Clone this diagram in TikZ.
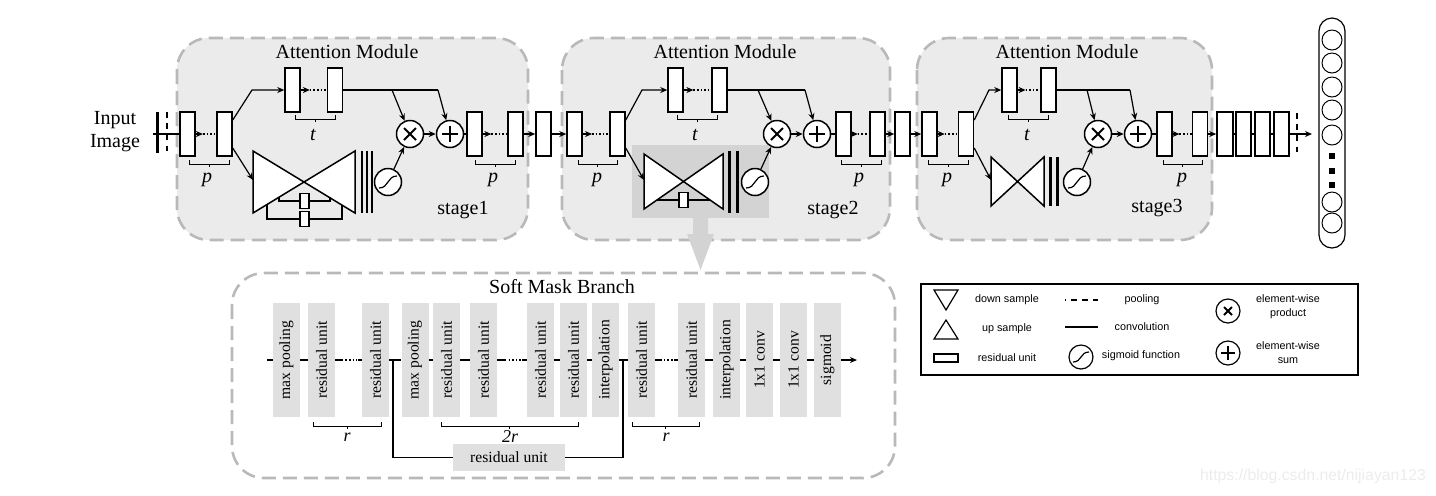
\documentclass[tikz,border=0pt]{standalone}
\usepackage{fontspec}
\setmainfont{Liberation Serif}
\newfontfamily\legfont{Liberation Sans}
\usetikzlibrary{arrows.meta,calc}
\definecolor{stagegray}{RGB}{235,235,235}
\definecolor{dashgray}{RGB}{185,185,185}
\definecolor{hlgray}{RGB}{211,211,211}
\definecolor{smgray}{RGB}{224,224,224}
\definecolor{wmgray}{RGB}{236,236,236}
\newcommand\mytimes[2]{\draw[line width=1pt] ([shift={(-#2,-#2)}]#1.center) -- ([shift={(#2,#2)}]#1.center) ([shift={(-#2,#2)}]#1.center) -- ([shift={(#2,-#2)}]#1.center);}
\newcommand\myplus[2]{\draw[line width=1pt] ([shift={(-#2,0)}]#1.center) -- ([shift={(#2,0)}]#1.center) ([shift={(0,-#2)}]#1.center) -- ([shift={(0,#2)}]#1.center);}
\newcommand\mysig[3]{\draw[line width=0.6pt] ([shift={(-#2,#3)}]#1.center) .. controls ([shift={(1,#3)}]#1.center) and ([shift={(-1,-#3)}]#1.center) .. ([shift={(#2,-#3)}]#1.center);}
\newcommand\mybrk[3]{\draw[line width=0.5pt] (#1,#3-4) -- (#1,#3) -- (#2,#3) -- (#2,#3-4) ({(#1+#2)/2},#3) -- ({(#1+#2)/2},#3+3);}
\newcommand\bowshape[4]{\filldraw[fill=white,line width=0.75pt] (#1,#2) -- (#3,#4) -- (#3,#2) -- (#1,#4) -- cycle;}
\newcommand\pairlink[2]{\draw[arr] (#1.east) -- ($(#1.east)!0.35!(#2.west)$); \draw[line width=0.8pt,densely dotted] ($(#1.east)!0.35!(#2.west)$) -- (#2.west);}
\newcommand\dotlink[2]{\draw[ln] (#1.east) -- ($(#1.east)!0.3!(#2.west)$); \draw[line width=0.8pt,densely dotted] ($(#1.east)!0.38!(#2.west)$) -- ($(#1.east)!0.8!(#2.west)$); \draw[ln] ($(#1.east)!0.85!(#2.west)$) -- (#2.west);}
\begin{document}
\begin{tikzpicture}[x=0.5pt,y=-0.5pt,
 blk/.style={draw,fill=white,line width=0.75pt,minimum width=7.5pt,minimum height=22pt,inner sep=0pt},
 sblk/.style={draw,fill=white,line width=0.6pt,minimum width=4.5pt,minimum height=7.5pt,inner sep=0pt},
 arr/.style={line width=0.6pt,-{Stealth[length=3.5pt,width=3pt]}},
 ln/.style={line width=0.65pt},
 circ/.style={draw,circle,fill=white,line width=0.75pt,minimum size=13.5pt,inner sep=0pt},
 lcirc/.style={draw,circle,line width=0.6pt,minimum size=12pt,inner sep=0pt},
 stagebox/.style={fill=stagegray,draw=dashgray,line width=1.3pt,dash pattern=on 7pt off 3.5pt,rounded corners=16pt},
 mbox/.style={fill=smgray,minimum width=13.5pt,minimum height=57pt,inner sep=0pt,font=\fontsize{7.8}{9}\selectfont},
 lbl/.style={font=\fontsize{10}{11.5}\selectfont,inner sep=0pt},
 ilbl/.style={font=\fontsize{10}{12}\selectfont\itshape,inner sep=0pt},
 leg/.style={font=\legfont\fontsize{5.4}{7}\selectfont,align=center,inner sep=0pt},
 thickbar/.style={line width=1.5pt},
 dbar/.style={line width=1.4pt,dash pattern=on 2.8pt off 2.8pt},
]
\useasboundingbox (0,0) rectangle (1436,495);
% backgrounds
\draw[stagebox] (177,38) rectangle (528,240);
\draw[stagebox] (562,38) rectangle (890,240);
\draw[stagebox] (917,38) rectangle (1212,240);
\fill[hlgray] (632,145) rectangle (769,218);
\fill[hlgray] (693,218) -- (708,218) -- (708,234) -- (714,234) -- (700.5,270) -- (687,234) -- (693,234) -- cycle;
\draw[draw=dashgray,line width=1.3pt,dash pattern=on 7pt off 3.5pt,rounded corners=16pt] (232,273) rectangle (895,478);

% titles
\node[lbl] (am1) at (347,52) {Attention Module};
\node[lbl] (am2) at (725,52) {Attention Module};
\node[lbl] (am3) at (1067,52) {Attention Module};
\node[lbl] (st1) at (463,210) {stage1};
\node[lbl] (st2) at (833,210) {stage2};
\node[lbl] (st3) at (1157,208) {stage3};
\node[lbl,align=center] (inimg) at (115,132) {Input\\Image};

% input
\coordinate (inp) at (153,134);

% ---------- stage 1
\node[blk] (s1a) at (187.5,134) {};
\node[blk] (s1b) at (224.5,134) {};
\node[blk] (u1a) at (292.5,90) {};
\node[blk] (u1b) at (335,90) {};
\node[circ] (x1) at (410,134) {};
\node[circ] (p1) at (450,134) {};
\node[circ] (g1) at (388,182) {};
\node[blk] (s1c) at (474.5,134) {};
\node[blk] (s1d) at (515.5,134) {};
\node[blk] (m1) at (543.5,134) {};
\mytimes{x1}{6}\myplus{p1}{8}\mysig{g1}{9}{6}
\bowshape{253}{151}{355}{213}
\draw[line width=1.3pt] (362,151) -- (362,213) (367,151) -- (367,213) (372,151) -- (372,213);
\coordinate (k1) at (252,90);
\coordinate (bw1) at (253,180);
\coordinate (j1) at (392,90);
\coordinate (h1) at (438,90);
\draw[ln] (inp) -- (s1a.west);
\draw[thickbar] (157,112) -- (157,153);
\draw[dbar] (167,112) -- (167,153);
\pairlink{s1a}{s1b}
\draw[arr] ([yshift=7pt]s1b.east) -- (k1) -- (u1a.west);
\draw[arr] ([yshift=-7pt]s1b.east) -- (bw1);
\pairlink{u1a}{u1b}
\draw[ln] (u1b.east) -- (h1);
\draw[arr] (h1) -- (p1);
\draw[arr] (j1) -- (x1);
\draw[arr] (x1) -- (p1);
\draw[arr] (g1) -- (x1);
\draw[ln] (p1) -- (s1c);
\pairlink{s1c}{s1d}
\draw[arr] (s1d) -- (m1);
% inner skips
\node[sblk] (ir1) at (304.5,201) {};
\node[sblk] (ir2) at (304.5,219) {};
\coordinate (ia1) at (279,197); \coordinate (ib1) at (330,197);
\coordinate (oa1) at (267,204.5); \coordinate (ob1) at (342,204.5);
\draw[line width=0.6pt] (ia1) |- (ir1.west);
\draw[line width=0.6pt] (ir1.east) -| (ib1);
\draw[line width=0.6pt] (oa1) |- (ir2.west);
\draw[line width=0.6pt] (ir2.east) -| (ob1);
\mybrk{189}{229}{164}
\mybrk{295}{335}{119}
\mybrk{475}{515}{164}
\node[ilbl] (lp1) at (207,180) {p};
\node[ilbl] (lt1) at (313,135) {t};
\node[ilbl] (lp2) at (493,180) {p};

% ---------- stage 2
\node[blk] (s2a) at (574.5,134) {};
\node[blk] (s2b) at (617.5,134) {};
\node[blk] (u2a) at (675.5,90) {};
\node[blk] (u2b) at (719.5,90) {};
\node[circ] (x2) at (777,134) {};
\node[circ] (p2) at (817,134) {};
\node[circ] (g2) at (755,182) {};
\node[blk] (s2c) at (843.5,134) {};
\node[blk] (s2d) at (877.5,134) {};
\node[blk] (m2) at (902.5,134) {};
\mytimes{x2}{6}\myplus{p2}{8}\mysig{g2}{9}{6}
\bowshape{644}{154}{723}{209}
\draw[line width=1.5pt] (729,151) -- (729,213) (737,151) -- (737,213);
\coordinate (k2) at (642,90);
\coordinate (bw2) at (644,180);
\coordinate (j2) at (758,90);
\coordinate (h2) at (805,90);
\draw[arr] (m1) -- (s2a);
\pairlink{s2a}{s2b}
\draw[arr] ([yshift=7pt]s2b.east) -- (k2) -- (u2a.west);
\draw[arr] ([yshift=-7pt]s2b.east) -- (bw2);
\pairlink{u2a}{u2b}
\draw[ln] (u2b.east) -- (h2);
\draw[arr] (h2) -- (p2);
\draw[arr] (j2) -- (x2);
\draw[arr] (x2) -- (p2);
\draw[arr] (g2) -- (x2);
\draw[ln] (p2) -- (s2c);
\pairlink{s2c}{s2d}
\draw[arr] (s2d) -- (m2);
\node[sblk] (ir3) at (683.5,200) {};
\coordinate (ia2) at (657,200); \coordinate (ib2) at (710,200);
\draw[line width=0.6pt] (ia2) -- (ir3.west);
\draw[line width=0.6pt] (ir3.east) -- (ib2);
\mybrk{578}{617}{164}
\mybrk{677}{717}{119}
\mybrk{841}{881}{164}
\node[ilbl] (lp3) at (597,180) {p};
\node[ilbl] (lt2) at (695,135) {t};
\node[ilbl] (lp4) at (859,180) {p};

% ---------- stage 3
\node[blk] (s3a) at (929.5,134) {};
\node[blk] (s3b) at (966,134) {};
\node[blk] (u3a) at (1009.5,90) {};
\node[blk] (u3b) at (1048.5,90) {};
\node[circ] (x3) at (1098,134) {};
\node[circ] (p3) at (1138,134) {};
\node[circ] (g3) at (1077,182) {};
\node[blk] (s3c) at (1164.5,134) {};
\node[blk] (s3d) at (1200,134) {};
\mytimes{x3}{6}\myplus{p3}{8}\mysig{g3}{9}{6}
\bowshape{991}{157}{1044}{206}
\draw[line width=1.5pt] (1050,157) -- (1050,206) (1057,157) -- (1057,206);
\coordinate (k3) at (989,90);
\coordinate (bw3) at (991,180);
\coordinate (j3) at (1087,90);
\coordinate (h3) at (1130,90);
\draw[arr] (m2) -- (s3a);
\pairlink{s3a}{s3b}
\draw[arr] ([yshift=7pt]s3b.east) -- (k3) -- (u3a.west);
\draw[arr] ([yshift=-7pt]s3b.east) -- (bw3);
\pairlink{u3a}{u3b}
\draw[ln] (u3b.east) -- (h3);
\draw[arr] (h3) -- (p3);
\draw[arr] (j3) -- (x3);
\draw[arr] (x3) -- (p3);
\draw[arr] (g3) -- (x3);
\draw[ln] (p3) -- (s3c);
\pairlink{s3c}{s3d}
\mybrk{928}{968}{164}
\mybrk{1008}{1048}{119}
\mybrk{1163}{1202}{164}
\node[ilbl] (lp5) at (947,180) {p};
\node[ilbl] (lt3) at (1027,135) {t};
\node[ilbl] (lp6) at (1182,180) {p};

% ---------- tail
\node[blk,minimum width=8pt] (f1) at (1225,134) {};
\node[blk] (f2) at (1243.5,134) {};
\node[blk] (f3) at (1262.5,134) {};
\node[blk] (f4) at (1281.5,134) {};
\draw[arr] (s3d) -- (f1);
\draw[ln] (f1) -- (f2);
\draw[ln] (f2) -- (f3);
\draw[ln] (f3) -- (f4);
\coordinate (outp) at (1312,134);
\draw[arr] (f4) -- (outp);
\draw[dbar] (1297,113) -- (1297,153);
\node[draw,line width=0.6pt,rounded corners=6.5pt,minimum width=13pt,minimum height=115pt,inner sep=0pt] (col) at (1332,133) {};
\foreach \yy/\nm in {40/o1,63/o2,87/o3,110/o4,135/o5,202/o6,223/o7}{
  \node[draw,circle,line width=0.5pt,minimum size=10pt,inner sep=0pt] (\nm) at (1332,\yy) {};
}
\foreach \yy/\nm in {156/q1,171/q2,185/q3}{
  \node[fill=black,minimum size=2.6pt,inner sep=0pt] (\nm) at (1332,\yy) {};
}

% ---------- soft mask branch
\node[lbl] (smb) at (562,287) {Soft Mask Branch};
\foreach \xx/\nm/\txt in {286.5/mb1/max pooling,321.5/mb2/residual unit,375.5/mb3/residual unit,415/mb4/max pooling,446.5/mb5/residual unit,483.5/mb6/residual unit,540.5/mb7/residual unit,573.5/mb8/residual unit,605.5/mb9/interpolation,641.5/mb10/residual unit,691.5/mb11/residual unit,726.5/mb12/interpolation,759.5/mb13/1x1 conv,793.5/mb14/1x1 conv,827.5/mb15/sigmoid}{
  \node[mbox] (\nm) at (\xx,360) {\rotatebox{90}{\txt}};
}
\coordinate (smin) at (267,360);
\coordinate (smout) at (857,360);
\coordinate (sk1) at (393,360);
\coordinate (sk2) at (623,360);
\draw[ln] (smin) -- (mb1.west);
\draw[ln] (mb1.east) -- (mb2.west);
\dotlink{mb2}{mb3}
\draw[ln] (mb3.east) -- (mb4.west);
\draw[ln] (mb4.east) -- (mb5.west);
\draw[ln] (mb5.east) -- (mb6.west);
\dotlink{mb6}{mb7}
\draw[ln] (mb7.east) -- (mb8.west);
\draw[ln] (mb8.east) -- (mb9.west);
\draw[ln] (mb9.east) -- (mb10.west);
\dotlink{mb10}{mb11}
\draw[ln] (mb11.east) -- (mb12.west);
\draw[ln] (mb12.east) -- (mb13.west);
\draw[ln] (mb13.east) -- (mb14.west);
\draw[ln] (mb14.east) -- (mb15.west);
\draw[arr] (mb15.east) -- (smout);
\node[mbox,minimum width=56pt,minimum height=13.5pt] (hru) at (509,457.5) {residual unit};
\draw[line width=0.75pt] (sk1) |- (hru.west);
\draw[line width=0.75pt] (hru.east) -| (sk2);
\mybrk{313}{381}{426}
\mybrk{441}{578}{426}
\mybrk{632}{699}{426}
\node[ilbl,font=\fontsize{9}{11}\selectfont\itshape] (lr1) at (347,437) {r};
\node[ilbl,font=\fontsize{9}{11}\selectfont\itshape] (lr2) at (510,437) {2r};
\node[ilbl,font=\fontsize{9}{11}\selectfont\itshape] (lr3) at (666,437) {r};

% ---------- legend
\draw[line width=0.7pt] (921,284) rectangle (1358,375);
\draw[line width=0.6pt] (934,290) -- (958,290) -- (946,310) -- cycle;
\draw[line width=0.6pt] (934,339) -- (958,339) -- (946,320) -- cycle;
\node[draw,line width=0.6pt,minimum width=12pt,minimum height=4pt,inner sep=0pt] (lres) at (946,358) {};
\draw[line width=1.1pt,dash pattern=on 0.5pt off 2.5pt on 3pt off 2.5pt on 3pt off 2.5pt on 3pt off 10pt] (1065,300) -- (1098,300);
\draw[line width=1.2pt] (1065,327) -- (1098,327);
\node[lcirc] (lsg) at (1081,357) {};
\mysig{lsg}{8}{5}
\node[lcirc] (lx) at (1228,311) {};
\mytimes{lx}{4}
\node[lcirc] (lp) at (1228,353) {};
\myplus{lp}{7}
\node[leg] (t1) at (1007,300) {down sample};
\node[leg] (t2) at (1007,329) {up sample};
\node[leg] (t3) at (1007,358) {residual unit};
\node[leg] (t4) at (1142,300) {pooling};
\node[leg] (t5) at (1142,327) {convolution};
\node[leg] (t6) at (1141,356) {sigmoid function};
\node[leg] (t7) at (1288,307) {element-wise\\product};
\node[leg] (t8) at (1288,353) {element-wise\\sum};

% watermark
\node[font=\legfont\fontsize{7.9}{9}\selectfont,text=wmgray,inner sep=0pt] (wm) at (1313,476) {https://blog.csdn.net/nijiayan123};
\end{tikzpicture}
\end{document}
